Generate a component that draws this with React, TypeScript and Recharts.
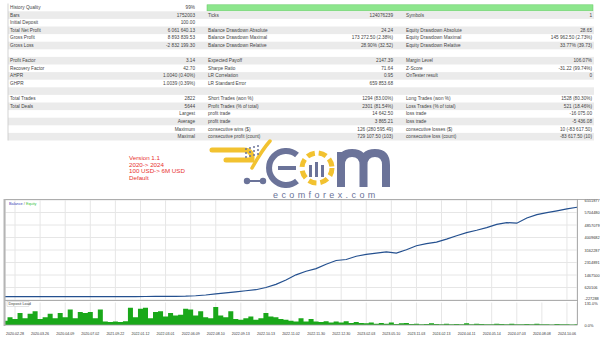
import { LineChart, Line, AreaChart, Area, XAxis, YAxis, CartesianGrid } from 'recharts';

// report table, one row per line: label, value, label, value, label, value
const reportRows: string[][] = [
  ['History Quality', '99%', '', '', '', ''],
  ['Bars', '1752003', 'Ticks', '124076239', 'Symbols', '1'],
  ['Initial Deposit', '100.00', '', '', '', ''],
  ['Total Net Profit', '6 061 640.13', 'Balance Drawdown Absolute', '24.24', 'Equity Drawdown Absolute', '28.65'],
  ['Gross Profit', '8 893 839.53', 'Balance Drawdown Maximal', '173 272.50 (2.38%)', 'Equity Drawdown Maximal', '145 962.50 (2.73%)'],
  ['Gross Loss', '-2 832 199.30', 'Balance Drawdown Relative', '28.90% (32.52)', 'Equity Drawdown Relative', '33.77% (39.73)'],
  ['', '', '', '', '', ''],
  ['Profit Factor', '3.14', 'Expected Payoff', '2147.39', 'Margin Level', '106.07%'],
  ['Recovery Factor', '42.70', 'Sharpe Ratio', '71.64', 'Z-Score', '-31.22 (99.74%)'],
  ['AHPR', '1.0040 (0.40%)', 'LR Correlation', '0.95', 'OnTester result', '0'],
  ['GHPR', '1.0039 (0.39%)', 'LR Standard Error', '659 853.68', '', ''],
  ['', '', '', '', '', ''],
  ['Total Trades', '2822', 'Short Trades (won %)', '1294 (83.00%)', 'Long Trades (won %)', '1528 (80.30%)'],
  ['Total Deals', '5644', 'Profit Trades (% of total)', '2301 (81.54%)', 'Loss Trades (% of total)', '521 (18.46%)'],
  ['', 'Largest', 'profit trade', '14 642.50', 'loss trade', '-16 075.00'],
  ['', 'Average', 'profit trade', '3 865.21', 'loss trade', '-5 436.08'],
  ['', 'Maximum', 'consecutive wins ($)', '126 (280 595.49)', 'consecutive losses ($)', '10 (-83 617.50)'],
  ['', 'Maximal', 'consecutive profit (count)', '729 107.50 (103)', 'consecutive loss (count)', '-83 617.50 (10)'],
];

const notes = ['Version 1.1', '2020-> 2024', '100 USD-> 6M USD', 'Default'];

// balance, one reading every second slot
const balance = [
  100, 120, 150, 200, 300, 400, 600, 800, 1100, 1500, 2100, 3000, 4200, 6000,
  8500, 12000, 17000, 24000, 34000, 60000, 110000, 190000, 260000, 330000, 400000, 470000,
  620000, 830000, 1130000, 1480000, 1720000, 1900000, 2200000, 2450000, 2520000, 2740000,
  2860000, 2950000, 3030000, 2950000, 3180000, 3450000, 3600000, 3700000, 3900000, 4130000,
  4340000, 4500000, 4680000, 4900000, 5020000, 4980000, 5330000, 5560000, 5690000, 5820000,
  5950000, 6061740,
];

// deposit load %, one per slot
const depositLoad = [
  25, 45, 35, 70, 40, 65, 80, 35, 45, 65, 40, 70, 45, 90, 40, 75, 70, 75, 40, 90,
  20, 18, 20, 18, 22, 100, 45, 95, 100, 40, 75, 80, 50, 70, 55, 60, 95, 90, 55, 80,
  45, 40, 105, 55, 45, 80, 35, 30, 40, 50, 30, 40, 70, 50, 45, 35, 30, 25, 20, 40,
  20, 35, 20, 18, 22, 15, 20, 15, 22, 12, 18, 12, 10, 15, 8, 12, 8, 14, 6, 10,
  12, 6, 8, 5, 6, 10, 6, 4, 8, 5, 6, 4, 10, 5, 8, 6, 4, 5, 8, 6,
  4, 7, 5, 4, 6, 5, 7, 4, 5, 3, 6, 4, 5, 3, 4,
];

const dateLabels = [
  '2020.02.28', '2020.03.26', '2020.04.09', '2020.07.02', '2021.09.22', '2022.01.12',
  '2022.03.01', '2022.06.09', '2022.08.10', '2022.09.13', '2022.10.13', '2022.11.02',
  '2022.11.30', '2022.12.30', '2023.02.03', '2023.05.10', '2023.11.03', '2024.02.13',
  '2024.04.11', '2024.05.14', '2024.07.03', '2024.08.08', '2024.10.06',
];
const dateSlots = [2, 7, 12, 17, 22, 27, 32, 37, 42, 47, 52, 57, 62, 67, 72, 77, 82, 87, 92, 97, 102, 107, 112];

const balanceTicks = [-227288, 620106, 1467500, 2314891, 3162287, 4009682, 4857079, 5704480, 6551877];
const loadTicks = [0, 131];

const balanceData = balance.map((v, k) => ({ slot: k * 2, balance: v }));
const loadData = depositLoad.map((v, i) => ({ slot: i, load: v }));

const FONT = '"Liberation Sans", Arial, sans-serif';
const GRID = '#e6e6e6';
const SLATE = '#6b7399';
const GOLD = '#f2c230';

const rowY = (i: number) => 7.5 + 7.6 * i;

const Report = () => {
  const cols = [
    { x: 10, anchor: 'start' },
    { x: 195, anchor: 'end' },
    { x: 208, anchor: 'start' },
    { x: 393, anchor: 'end' },
    { x: 406, anchor: 'start' },
    { x: 592, anchor: 'end' },
  ];
  return (
    <g fontFamily={FONT} fontSize={4.7} fill="#444">
      {reportRows.map((r, i) => (
        <g key={i}>
          {i % 2 === 1 && <rect x={8} y={rowY(i) - 3.8} width={586} height={7.6} fill="#ebebeb" />}
          {r.map((t, j) =>
            t ? (
              <text key={j} x={cols[j].x} y={rowY(i)} textAnchor={cols[j].anchor as any} dominantBaseline="central">
                {t}
              </text>
            ) : null
          )}
        </g>
      ))}
      <rect x={207} y={4.8} width={386} height={6} fill="#8de68d" stroke="#62c862" strokeWidth={0.5} />
      <line x1={8} y1={3.5} x2={8} y2={140.5} stroke="#c8c8c8" strokeWidth={0.8} />
    </g>
  );
};

const Logo = () => (
  <g>
    {/* cart */}
    <path d="M212 150 H244 Q252 150 252 158 V160 H226" fill="none" stroke={GOLD} strokeWidth={5} strokeLinecap="round" />
    <path d="M252 168 Q262 150 270 141" fill="none" stroke={GOLD} strokeWidth={3.5} strokeLinecap="round" />
    {[0, 1, 2, 3].map((c) =>
      [0, 1, 2].map((r) => (
        <circle key={`${c}-${r}`} cx={246 + c * 4} cy={149 + r * 4 - c} r={1} fill={SLATE} />
      ))
    )}
    <line x1={248} y1={181} x2={262} y2={181} stroke={SLATE} strokeWidth={2} />
    <circle cx={247} cy={181} r={3.2} fill={SLATE} />
    <circle cx={263} cy={181} r={3.2} fill={SLATE} />
    {/* E */}
    <path d="M297 155 A17 17 0 1 0 297 181" fill="none" stroke={SLATE} strokeWidth={6} />
    <line x1={278} y1={168} x2={296} y2={168} stroke={SLATE} strokeWidth={4} />
    {/* o ring */}
    <circle cx={317} cy={168} r={15} fill="none" stroke={GOLD} strokeWidth={5} strokeDasharray="8 4" />
    <rect x={309} y={165} width={3} height={12} fill={SLATE} />
    <rect x={315} y={162} width={3} height={15} fill={SLATE} />
    <rect x={321} y={165} width={3} height={12} fill={SLATE} />
    {/* m */}
    <path
      d="M341 187 V152 M341 165 Q341 153 352 153 Q363.5 153 363.5 165 V187 M363.5 165 Q363.5 153 375 153 Q386 153 386 165 V187"
      fill="none"
      stroke={SLATE}
      strokeWidth={8}
    />
    <text x={273} y={198} fontFamily={FONT} fontSize={9} letterSpacing={3.4} fill={SLATE}>ecomforex.com</text>
  </g>
);

const tickStyle = { fontSize: 3.9, fill: '#333', fontFamily: FONT };

// nudge the two stacked labels at the panel seam apart
const BalanceTick = (props: any) => {
  const { x, y, payload } = props;
  const dy = payload.value === balanceTicks[0] ? -1.2 : 0;
  return (
    <text x={x} y={y + dy} dominantBaseline="central" {...tickStyle}>
      {payload.value}
    </text>
  );
};

const LoadTick = (props: any) => {
  const { x, y, payload } = props;
  const dy = payload.value === loadTicks[1] ? 1.2 : 0;
  return (
    <text x={x} y={y + dy} dominantBaseline="central" {...tickStyle}>
      {payload.value.toFixed(1) + '%'}
    </text>
  );
};

export default function App() {
  return (
    <div style={{ position: 'absolute', left: 0, top: 0, width: 600, height: 338, background: '#fff', overflow: 'hidden' }}>
      <svg width={600} height={338} style={{ position: 'absolute', left: 0, top: 0 }}>
        <Report />
        <g fontFamily={FONT} fontSize={6.2} fill="#e8322f">
          {notes.map((t, i) => (
            <text key={i} x={129} y={157.7 + i * 6.6} dominantBaseline="central">{t}</text>
          ))}
        </g>
        <Logo />
      </svg>

      <div style={{ position: 'absolute', left: 0, top: 195 }}>
        <LineChart width={600} height={110} data={balanceData} margin={{ top: 5, right: 0, bottom: 5, left: 5 }}>
          <CartesianGrid stroke={GRID} />
          <XAxis type="number" dataKey="slot" domain={[0, 114]} ticks={dateSlots} hide />
          <YAxis
            orientation="right"
            width={23}
            domain={[balanceTicks[0], balanceTicks[balanceTicks.length - 1]]}
            ticks={balanceTicks}
            interval={0}
            axisLine={false}
            tickLine={false}
            tickMargin={1.5}
            tick={<BalanceTick />}
          />
          <Line type="linear" dataKey="balance" stroke="#24508f" strokeWidth={1.2} dot={false} isAnimationActive={false} />
        </LineChart>
      </div>

      <div style={{ position: 'absolute', left: 0, top: 298 }}>
        <AreaChart width={600} height={38} data={loadData} margin={{ top: 4.5, right: 0, bottom: 0, left: 5 }}>
          <CartesianGrid stroke={GRID} horizontal={false} />
          <XAxis
            type="number"
            dataKey="slot"
            domain={[0, 114]}
            ticks={dateSlots}
            interval={0}
            height={11}
            axisLine={false}
            tickLine={false}
            tickMargin={1}
            tick={{ ...tickStyle, fontSize: 3.6 }}
            tickFormatter={(v: number) => dateLabels[dateSlots.indexOf(v)] ?? ''}
          />
          <YAxis
            orientation="right"
            width={23}
            domain={[0, 131]}
            ticks={loadTicks}
            interval={0}
            axisLine={false}
            tickLine={false}
            tickMargin={1.5}
            tick={<LoadTick />}
          />
          <Area type="step" dataKey="load" stroke="none" fill="#1aa81a" fillOpacity={1} isAnimationActive={false} />
        </AreaChart>
      </div>

      <svg width={600} height={338} style={{ position: 'absolute', left: 0, top: 0, pointerEvents: 'none' }}>
        <g stroke="#9a9a9a" strokeWidth={0.8} fill="none">
          <line x1={4} y1={199.5} x2={598} y2={199.5} />
          <line x1={577.5} y1={199.5} x2={577.5} y2={325} />
          <line x1={4} y1={300.5} x2={577.5} y2={300.5} />
          <line x1={4} y1={325} x2={577.5} y2={325} />
        </g>
        <line x1={4.5} y1={199} x2={4.5} y2={326} stroke="#b4b4b4" strokeWidth={2} />
        <g fontFamily={FONT} fontSize={3.8}>
          <text x={9} y={203.5} dominantBaseline="central" fill="#3a3ab8">
            Balance <tspan fill="#666">/</tspan> <tspan fill="#3cbf3c">Equity</tspan>
          </text>
          <rect x={7} y={301.5} width={22} height={5} fill="#fff" stroke="#bbb" strokeWidth={0.4} />
          <text x={8.5} y={304} dominantBaseline="central" fill="#444">Deposit Load</text>
        </g>
      </svg>
    </div>
  );
}
